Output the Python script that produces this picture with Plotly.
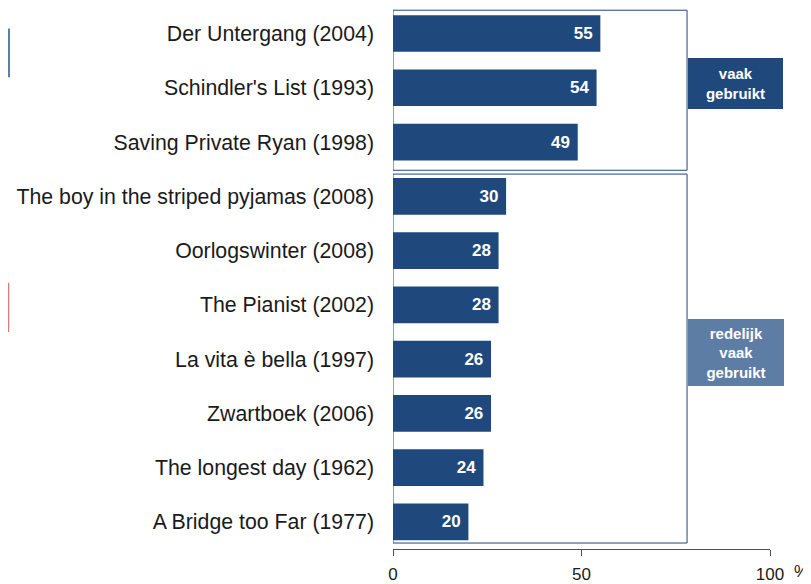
import plotly.graph_objects as go

films = [
    "Der Untergang (2004)",
    "Schindler's List (1993)",
    "Saving Private Ryan (1998)",
    "The boy in the striped pyjamas (2008)",
    "Oorlogswinter (2008)",
    "The Pianist (2002)",
    "La vita è bella (1997)",
    "Zwartboek (2006)",
    "The longest day (1962)",
    "A Bridge too Far (1977)",
]
percent = [55, 54, 49, 30, 28, 28, 26, 26, 24, 20]
x_ticks = [0, 50, 100]
group_labels = ["vaak<br>gebruikt", "redelijk<br>vaak<br>gebruikt"]

BAR = "#1F497D"
LIGHT = "#5E7DA5"
FONT = "Liberation Sans, Arial, sans-serif"

fig = go.Figure()
fig.add_trace(go.Bar(
    y=films, x=percent, orientation="h",
    marker=dict(color=BAR, line=dict(width=0)),
    width=0.675,
    text=[str(v) for v in percent],
    texttemplate="%{text}\u00a0",
    textposition="inside", insidetextanchor="end", textangle=0,
    textfont=dict(color="white", size=17, family=FONT, weight="bold"),
    hoverinfo="skip",
))

shapes = [
    # group frames
    dict(type="rect", xref="x", yref="y", x0=0, x1=78, y0=-0.43, y1=2.52,
         line=dict(color=BAR, width=1), fillcolor="rgba(0,0,0,0)", layer="below"),
    dict(type="rect", xref="x", yref="y", x0=0, x1=78, y0=2.59, y1=9.39,
         line=dict(color=BAR, width=1), fillcolor="rgba(0,0,0,0)", layer="below"),
    # left edge marks
    dict(type="line", xref="paper", yref="paper", x0=-1.0186, x1=-1.0186, y0=0.872, y1=0.962,
         line=dict(color=LIGHT, width=2)),
    dict(type="line", xref="paper", yref="paper", x0=-1.0199, x1=-1.0199, y0=0.401, y1=0.492,
         line=dict(color="#E07A7A", width=1.5)),
]

annotations = [
    dict(xref="paper", yref="paper", x=0.783, y=0.908, xanchor="left", yanchor="top",
         text=group_labels[0], showarrow=False, bgcolor=BAR, borderpad=0, borderwidth=0,
         width=95, height=51, align="center", valign="middle",
         font=dict(color="white", size=15, family=FONT, weight="bold")),
    dict(xref="paper", yref="paper", x=0.782, y=0.425, xanchor="left", yanchor="top",
         text=group_labels[1], showarrow=False, bgcolor=LIGHT, borderpad=0, borderwidth=0,
         width=96, height=67, align="center", valign="middle",
         font=dict(color="white", size=15, family=FONT, weight="bold")),
    dict(xref="paper", yref="paper", x=1.0836, y=-0.042, xanchor="center", yanchor="middle",
         text="%", showarrow=False,
         font=dict(color="#1a1a1a", size=17, family=FONT)),
]

fig.update_layout(
    width=803, height=576,
    margin=dict(l=385, r=41, t=0, b=30),
    paper_bgcolor="white", plot_bgcolor="white",
    showlegend=False,
    shapes=shapes, annotations=annotations,
    xaxis=dict(range=[0, 100], tickvals=x_ticks, ticktext=[str(t) for t in x_ticks],
               showgrid=False, zeroline=False, showline=True, linecolor="#505050", linewidth=1,
               ticks="outside", ticklen=6, tickcolor="#505050", ticklabelstandoff=4,
               tickfont=dict(size=17, color="#1a1a1a", family=FONT), fixedrange=True),
    yaxis=dict(range=[9.5, -0.471], showgrid=False, zeroline=False, showline=False,
               ticks="", ticklabelstandoff=18,
               tickfont=dict(size=21.3, color="#1a1a1a", family=FONT), fixedrange=True),
)

fig.write_html("out.html")
